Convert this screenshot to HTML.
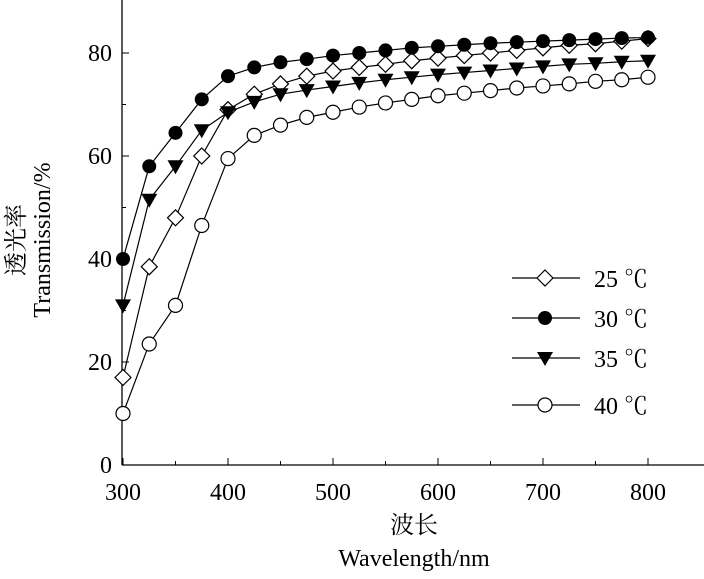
<!DOCTYPE html>
<html><head><meta charset="utf-8"><style>
body{margin:0;background:#fff}
svg{display:block;font-family:"Liberation Serif","Noto Serif CJK SC",serif}
</style></head><body>
<svg id="c" width="704" height="579"></svg>
<script>
const wavelengths=[300,325,350,375,400,425,450,475,500,525,550,575,600,625,650,675,700,725,750,775,800];
const s25=[17,38.5,48,60,69,72,74,75.5,76.5,77.2,77.8,78.5,79,79.5,80,80.5,81,81.5,81.8,82.3,82.8];
const s30=[40,58,64.5,71,75.5,77.2,78.2,78.8,79.5,80,80.5,81,81.3,81.6,81.9,82.1,82.3,82.5,82.7,82.9,83];
const s35=[31,51.5,58,65,68.5,70.5,72,72.8,73.5,74.2,74.8,75.3,75.8,76.2,76.6,77,77.4,77.8,78,78.3,78.5];
const s40=[10,23.5,31,46.5,59.5,64,66,67.5,68.5,69.5,70.3,71,71.7,72.2,72.7,73.2,73.6,74,74.5,74.8,75.3];
const xTicks=[300,400,500,600,700,800];
const yTicks=[0,20,40,60,80];
const seriesNames=["25 ℃","30 ℃","35 ℃","40 ℃"];
const NS="http://www.w3.org/2000/svg";
const svg=document.getElementById('c');
const X=v=>123+(v-300)*1.05;
const Y=v=>465-v*5.15;
function mk(t,a,p){const e=document.createElementNS(NS,t);for(const k in a)e.setAttribute(k,a[k]);(p||svg).appendChild(e);return e;}
// axes
let ax=mk('line',{x1:122,y1:0,x2:122,y2:465,stroke:'#000','stroke-width':1.3});


ax=mk('line',{x1:122,y1:465,x2:704,y2:465,stroke:'#000','stroke-width':1.3});


xTicks.forEach(v=>{
 mk('line',{x1:X(v),y1:465,x2:X(v),y2:458,stroke:'#000'});
 const t=mk('text',{x:X(v),y:500,'font-size':24,'text-anchor':'middle'});t.textContent=v;
 
 
});
[350,450,550,650,750].forEach(v=>mk('line',{x1:X(v),y1:465,x2:X(v),y2:461,stroke:'#000'}));
yTicks.forEach(v=>{
 mk('line',{x1:122,y1:Y(v),x2:129,y2:Y(v),stroke:'#000'});
 const t=mk('text',{x:112,y:Y(v)+8,'font-size':24,'text-anchor':'end'});t.textContent=v;
 
 
});
[10,30,50,70].forEach(v=>mk('line',{x1:122,y1:Y(v),x2:126,y2:Y(v),stroke:'#000'}));
function marker(type,x,y,g){
 if(type==='d')return mk('polygon',{points:`${x},${y-8} ${x+8},${y} ${x},${y+8} ${x-8},${y}`,fill:'#fff',stroke:'#000','stroke-width':1.2},g);
 if(type==='fc')return mk('circle',{cx:x,cy:y,r:7,fill:'#000'},g);
 if(type==='t')return mk('polygon',{points:`${x-8},${y-6} ${x+8},${y-6} ${x},${y+8}`,fill:'#000'},g);
 return mk('circle',{cx:x,cy:y,r:7,fill:'#fff',stroke:'#000','stroke-width':1.2},g);
}
const series=[[s25,'d'],[s30,'fc'],[s35,'t'],[s40,'o']];
const names=['series-25c','series-30c','series-35c','series-40c'];
series.forEach(([d,m],i)=>{
 const g=mk('g',{});
 
 
 mk('polyline',{points:d.map((v,j)=>X(wavelengths[j])+','+Y(v)).join(' '),fill:'none',stroke:'#000','stroke-width':1.2},g);
 d.forEach((v,j)=>marker(m,X(wavelengths[j]),Y(v),g));
 const ly=[278,318,358,405][i];
 const lg=mk('g',{});
 
 
 mk('line',{x1:512,y1:ly,x2:580,y2:ly,stroke:'#000','stroke-width':1.2},lg);
 marker(m,545,ly,lg);
 const t=mk('text',{x:594,y:ly+9,'font-size':24},lg);t.textContent=seriesNames[i];
});
let t=mk('text',{x:414,y:533,'font-size':24,'text-anchor':'middle'});t.textContent='波长';


t=mk('text',{x:414,y:566,'font-size':24,'text-anchor':'middle'});t.textContent='Wavelength/nm';


t=mk('text',{x:0,y:0,'font-size':24,'text-anchor':'middle',transform:'translate(24,240) rotate(-90)'});t.textContent='透光率';


t=mk('text',{x:0,y:0,'font-size':24,'text-anchor':'middle',transform:'translate(50,240) rotate(-90)'});t.textContent='Transmission/%';


</script>
</body></html>
